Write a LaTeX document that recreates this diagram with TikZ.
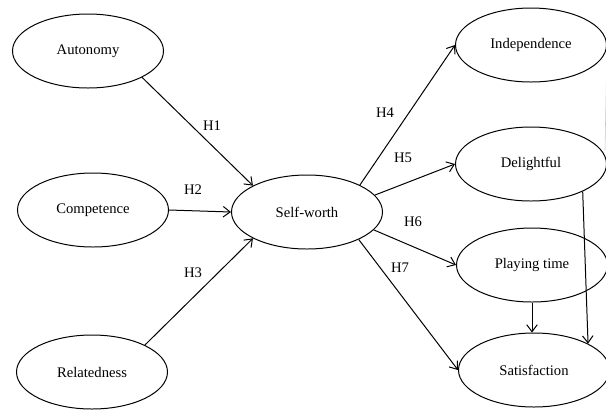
\documentclass[tikz,border=0pt]{standalone}
\usepackage{fontspec}
\setmainfont{Liberation Serif}
\usetikzlibrary{shapes.geometric,arrows.meta}

\tikzset{
  construct/.style={draw,ellipse,line width=0.85pt,inner sep=0pt,
    minimum width=4.53cm,minimum height=2.22cm,font=\fontsize{12.5}{14}\selectfont},
  path/.style={line width=0.85pt,-{Straight Barb[length=6pt,width=9pt]}},
  hyp/.style={font=\fontsize{12.5}{14}\selectfont}
}

\begin{document}
\begin{tikzpicture}[x=0.03cm,y=-0.03cm]
\useasboundingbox (0,0) rectangle (606,409);

% exogenous constructs
\node[construct] (aut) at (88,51) {Autonomy};
\node[construct] (com) at (93,210) {Competence};
\node[construct] (rel) at (92,372) {Relatedness};

% mediator
\node[construct] (sw) at (307,212) {Self-worth};

% outcomes
\node[construct] (ind) at (531,45) {Independence};
\node[construct] (del) at (531,164) {Delightful};
\node[construct] (pla) at (532,265) {Playing time};
\node[construct] (sat) at (534,370) {Satisfaction};

\draw[path] (aut.-26) -- (sw.154);
\draw[path] (com.east) -- (sw.west);
\draw[path] (rel.27) -- (sw.206);
\draw[path] (sw.27) -- (ind.west);
\draw[path] (sw.14) -- (del.west);
\draw[path] (sw.-15) -- (pla.west);
\draw[path] (sw.-28) -- (sat.west);
\draw[path] (pla.south) -- (pla.south |- sat.north);
\draw[path] (del.-28) -- (sat.26);

\coordinate (edge) at (605,150);
\draw[gray!45,line width=0.5pt] (ind.east) -- (edge);

\node[hyp] (h1) at (212,126) {H1};
\node[hyp] (h2) at (193,190) {H2};
\node[hyp] (h3) at (193,273) {H3};
\node[hyp] (h4) at (385,113) {H4};
\node[hyp] (h5) at (403,158) {H5};
\node[hyp] (h6) at (413,222) {H6};
\node[hyp] (h7) at (400,268) {H7};

\end{tikzpicture}
\end{document}
